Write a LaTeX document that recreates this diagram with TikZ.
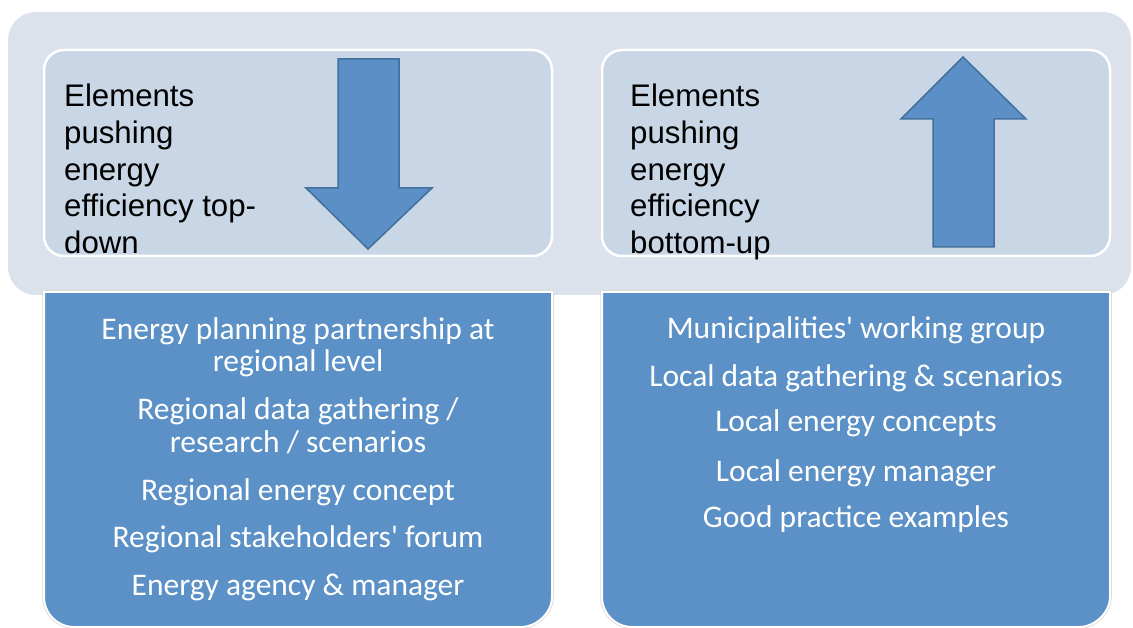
\documentclass[tikz,border=0pt]{standalone}
\usepackage{fontspec}
\setmainfont{Liberation Sans}
\newfontfamily\carlitofont{Carlito}
\definecolor{panelc}{RGB}{219,226,236}
\definecolor{innerc}{RGB}{201,214,229}
\definecolor{arrowc}{RGB}{91,143,198}
\definecolor{arrowl}{RGB}{65,113,156}
\definecolor{bottomc}{RGB}{91,145,198}
\tikzset{
  panel/.style={fill=panelc, draw=none, rounded corners=28},
  innerbox/.style={fill=innerc, draw=white, line width=2.5, rounded corners=20},
  blockarrow/.style={fill=arrowc, draw=arrowl, line width=1.5, line join=miter},
  bottombox/.style={fill=bottomc, draw=white, line width=2,
    preaction={draw=black!15, line width=3.5}},
  titletext/.style={inner sep=0, align=left, anchor=north west, text=black,
    font=\fontsize{31.2}{36.8}\selectfont},
  itemtext/.style={inner sep=0, anchor=base, text=white,
    font=\carlitofont\fontsize{31.5}{32}\selectfont}
}
\begin{document}
\begin{tikzpicture}[x=1pt,y=-1pt]
\useasboundingbox (0,0) rectangle (1133,628);
% background panel
\path[panel] (8,12) rectangle (1131,295);
% inner header boxes
\path[innerbox] (44,50) rectangle (552,256);
\path[innerbox] (602,50) rectangle (1110,256);
% block arrows
\draw[blockarrow] (338,59) -- (399,59) -- (399,188) -- (432,188) -- (368,249)
  -- (306,188) -- (338,188) -- cycle;
\draw[blockarrow] (963,57) -- (1026,119) -- (994,119) -- (994,247) -- (933,247)
  -- (933,119) -- (901,119) -- cycle;
% titles
\node[titletext] (tl) at (64,83.7) {Elements\\pushing\\energy\\efficiency top-\\down};
\node[titletext] (tr) at (630,83.7) {Elements\\pushing\\energy\\efficiency\\bottom-up};
% bottom boxes
\path[bottombox] (44,292) -- (552,292) -- (552,597)
  .. controls (552,613.6) and (535.4,627) .. (522,627) -- (74,627)
  .. controls (57.4,627) and (44,613.6) .. (44,597) -- cycle;
\path[bottombox] (602,292) -- (1110,292) -- (1110,597)
  .. controls (1110,613.6) and (1093.4,627) .. (1080,627) -- (632,627)
  .. controls (615.4,627) and (602,613.6) .. (602,597) -- cycle;
% left items
\node[itemtext] (l1) at (298,340) {Energy planning partnership at};
\node[itemtext] (l2) at (298,372) {regional level};
\node[itemtext] (l3) at (298,419) {Regional data gathering /};
\node[itemtext] (l4) at (298,452) {research / scenarios};
\node[itemtext] (l5) at (298,500) {Regional energy concept};
\node[itemtext] (l6) at (298,547) {Regional stakeholders' forum};
\node[itemtext] (l7) at (298,595) {Energy agency \& manager};
% right items
\node[itemtext] (r1) at (856,339) {Municipalities' working group};
\node[itemtext] (r2) at (856,386) {Local data gathering \& scenarios};
\node[itemtext] (r3) at (856,431) {Local energy concepts};
\node[itemtext] (r4) at (856,481) {Local energy manager};
\node[itemtext] (r5) at (856,527) {Good practice examples};
\end{tikzpicture}
\end{document}
